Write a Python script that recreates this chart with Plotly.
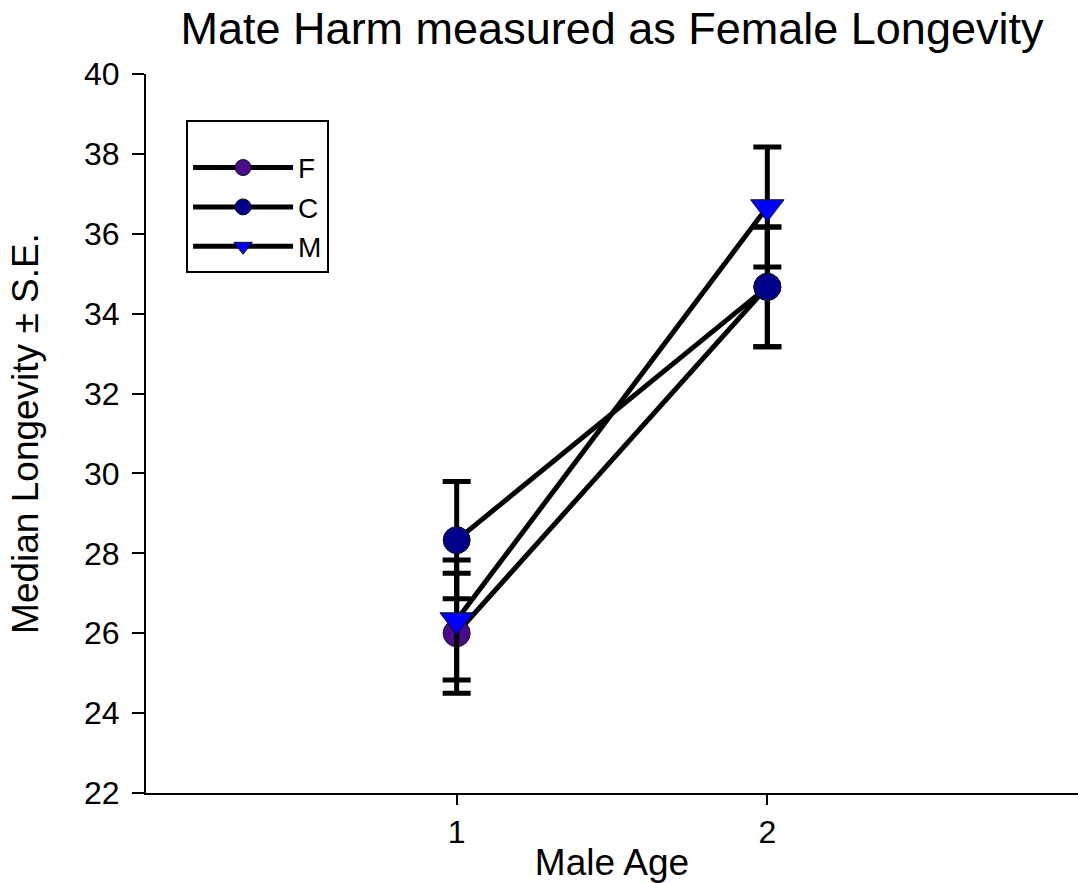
import plotly.graph_objects as go

male_age = [1, 2]
series_names = ["F", "C", "M"]
f_vals = [26.0, 34.67]
f_se = [1.5, 1.5]
c_vals = [28.33, 34.67]
c_se = [1.47, 1.5]
m_vals = [26.33, 36.67]
m_se = [1.5, 1.5]

colors = {"F": "#4B0A8C", "C": "#00008B", "M": "#0000FF"}
symbols = {"F": "circle", "C": "circle", "M": "triangle-down"}
vals = {"F": f_vals, "C": c_vals, "M": m_vals}
ses = {"F": f_se, "C": c_se, "M": m_se}

FONT = "Liberation Sans, Arial, sans-serif"

fig = go.Figure()
for name in series_names:
    fig.add_trace(go.Scatter(
        x=male_age, y=vals[name], name=name, mode="lines+markers",
        line=dict(color="black", width=5),
        marker=dict(symbol=symbols[name], size=27 if name != "M" else 29,
                    color=colors[name], line=dict(color="#111111", width=1)),
        error_y=dict(type="data", array=ses[name], visible=True,
                     color="black", thickness=5, width=14),
    ))

fig.update_layout(
    width=1078, height=883,
    margin=dict(l=146, r=0, t=74, b=90),
    paper_bgcolor="white", plot_bgcolor="white",
    font=dict(family=FONT, color="black"),
    title=dict(text="Mate Harm measured as Female Longevity",
               font=dict(size=45, family=FONT, color="black"),
               x=0.5, xref="paper", xanchor="center", y=0.968, yref="container", yanchor="middle"),
    showlegend=True,
    legend=dict(x=0.043, y=0.936, xanchor="left", yanchor="top",
                bordercolor="black", borderwidth=2, bgcolor="white",
                font=dict(size=28, family=FONT, color="black"),
                title=dict(text=" ", font=dict(size=16)),
                itemsizing="trace", tracegroupgap=0, itemwidth=100),
)
fig.update_xaxes(
    range=[0, 3], tickvals=male_age, ticktext=[str(v) for v in male_age],
    showline=True, linecolor="black", linewidth=2, mirror=False,
    ticks="outside", ticklen=10, tickwidth=2, tickcolor="black",
    tickfont=dict(size=32, family=FONT, color="black"),
    showgrid=False, zeroline=False,
    title=dict(text="Male Age", font=dict(size=37, family=FONT, color="black"), standoff=2),
)
fig.update_yaxes(
    range=[22, 40], dtick=2, tick0=22,
    showline=True, linecolor="black", linewidth=2, mirror=False,
    ticks="outside", ticklen=12, tickwidth=2, tickcolor="black",
    tickfont=dict(size=32, family=FONT, color="black"),
    ticklabelstandoff=6,
    showgrid=False, zeroline=False,
    title=dict(text="Median Longevity ± S.E.", font=dict(size=37, family=FONT, color="black"), standoff=34),
)

fig.write_html("out.html")
